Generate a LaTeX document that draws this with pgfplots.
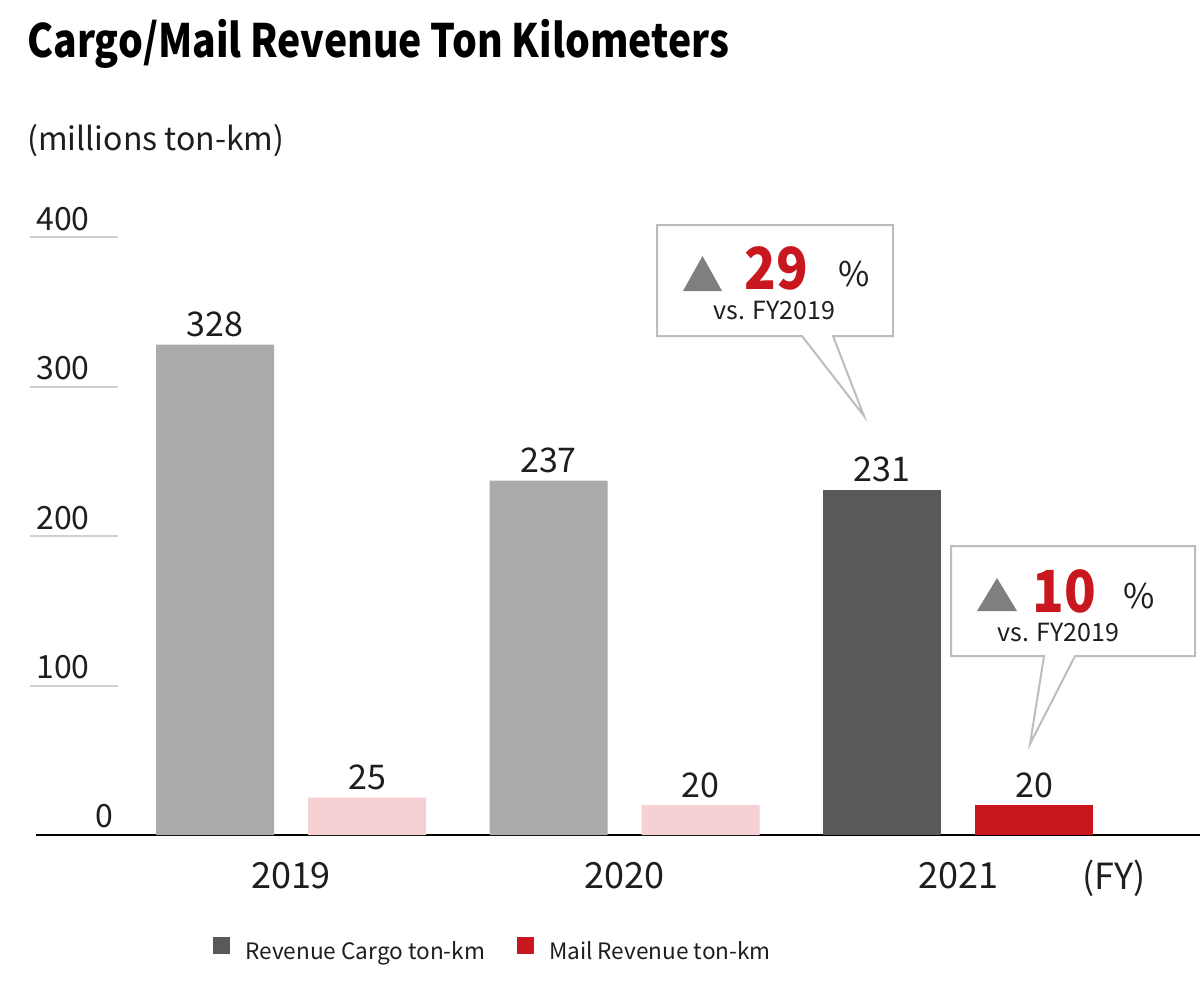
\documentclass[border=0pt]{standalone}
\usepackage{fontspec}
\setmainfont{Noto Sans CJK JP}
\usepackage{graphicx}
\usepackage{pgfplots}
\pgfplotsset{compat=1.18}

\definecolor{pastcargo}{HTML}{ABABAB}
\definecolor{pastmail}{HTML}{F7D0D4}
\definecolor{cargo}{HTML}{5A5859}
\definecolor{mail}{HTML}{C8171F}
\definecolor{gridc}{HTML}{D0D0D0}
\definecolor{boxc}{HTML}{BDBDBD}
\definecolor{tric}{HTML}{7F7F7F}
\definecolor{txt}{HTML}{1E1E1E}

\begin{document}
\begin{tikzpicture}[x=0.5bp,y=-0.5bp]
\useasboundingbox (0,0) rectangle (1200,985);
\coordinate (O) at (36,835);

% title and unit
\node[anchor=base west, inner sep=0pt, text=black, font=\bfseries\fontsize{23bp}{27bp}\selectfont] at (27,57) {\scalebox{0.85}[1]{Cargo/Mail Revenue Ton Kilometers}};
\node[anchor=base west, inner sep=0pt, text=txt, font=\fontsize{16bp}{19bp}\selectfont] at (27,150) {(millions ton-km)};

\begin{axis}[
  at={(O)}, anchor=south west,
  scale only axis, width=582bp, height=299bp,
  xmin=-0.7646, xmax=2.7256, ymin=0, ymax=400,
  axis lines*=left,
  tick align=inside,
  x axis line style={black, line width=1bp},
  y axis line style={draw=none},
  xtick={0,1,2}, xticklabels={2019,2020,2021},
  xtick style={draw=none},
  xticklabel style={anchor=north, inner sep=0pt, yshift=-13.5bp, text=txt,
    font=\fontsize{18bp}{21bp}\selectfont},
  ytick={100,200,300,400},
  ytick style={draw=gridc, line width=1bp, xshift=-3bp},
  major tick length=44bp,
  yticklabel style={anchor=south west, inner sep=0pt, xshift=0bp, yshift=3bp, text=txt,
    font=\fontsize{16bp}{19bp}\selectfont},
  extra y ticks={0},
  extra y tick style={major tick length=0pt,
    yticklabel style={anchor=south east, xshift=39bp, yshift=0.5bp}},
  /pgf/number format/assume math mode=true,
  nodes near coords,
  every node near coord/.append style={font=\fontsize{17bp}{20bp}\selectfont,
    text=txt, inner sep=0pt, yshift=3.5bp},
  clip=false,
  legend columns=2,
  legend cell align=left,
  legend style={at={(0.3935,-0.1957)}, anchor=center, draw=none, fill=none,
    inner sep=0pt, text=txt, font=\fontsize{11.3bp}{14bp}\selectfont,
    /tikz/every odd column/.append style={column sep=5.5bp},
    /tikz/every even column/.append style={column sep=14bp}},
  legend image code/.code={\fill[#1] (0bp,-1bp) rectangle (8.5bp,7.5bp);},
]
% FY2019, FY2020
\addplot[ybar, bar width=59bp, bar shift=-38bp, fill=pastcargo, draw=none, forget plot,
  every node near coord/.append style={xshift=-38bp}]
  coordinates {(0,328) (1,237)};
\addplot[ybar, bar width=59bp, bar shift=38bp, fill=pastmail, draw=none, forget plot,
  every node near coord/.append style={xshift=38bp}]
  coordinates {(0,25) (1,20)};
% FY2021
\addplot[ybar, bar width=59bp, bar shift=-38bp, fill=cargo, draw=none,
  every node near coord/.append style={xshift=-38bp}]
  coordinates {(2,231)};
\addlegendentry{Revenue Cargo ton-km}
\addplot[ybar, bar width=59bp, bar shift=38bp, fill=mail, draw=none,
  every node near coord/.append style={xshift=38bp}]
  coordinates {(2,20)};
\addlegendentry{Mail Revenue ton-km}
\end{axis}

\node[anchor=base west, inner sep=0pt, text=txt, font=\fontsize{18bp}{21bp}\selectfont] at (1082,889) {(FY)};

% callout: cargo
\draw[boxc, line width=1bp, fill=white, line join=miter]
  (657,225) -- (893,225) -- (893,336) -- (833,336) -- (864,416) -- (802,336) -- (657,336) -- cycle;
\fill[tric] (683,291) -- (722,291) -- (702.5,256) -- cycle;
\node[anchor=base west, inner sep=0pt, text=mail, font=\bfseries\fontsize{29bp}{32bp}\selectfont] at (744,289) {\scalebox{0.9}[1]{29}};
\node[anchor=base west, inner sep=0pt, text=txt, font=\fontsize{17bp}{20bp}\selectfont] at (838,286) {\%};
\node[anchor=base west, inner sep=0pt, text=txt, font=\fontsize{12.5bp}{15bp}\selectfont] at (713,319) {vs. FY2019};

% callout: mail
\draw[boxc, line width=1bp, fill=white, line join=miter]
  (951,546) -- (1195,546) -- (1195,656) -- (1075,656) -- (1030,744) -- (1044,656) -- (951,656) -- cycle;
\fill[tric] (977,611) -- (1017,611) -- (997,578) -- cycle;
\node[anchor=base west, inner sep=0pt, text=mail, font=\bfseries\fontsize{29bp}{32bp}\selectfont] at (1032,612) {\scalebox{0.9}[1]{10}};
\node[anchor=base west, inner sep=0pt, text=txt, font=\fontsize{17bp}{20bp}\selectfont] at (1123,608) {\%};
\node[anchor=base west, inner sep=0pt, text=txt, font=\fontsize{12.5bp}{15bp}\selectfont] at (997,641) {vs. FY2019};
\end{tikzpicture}
\end{document}
